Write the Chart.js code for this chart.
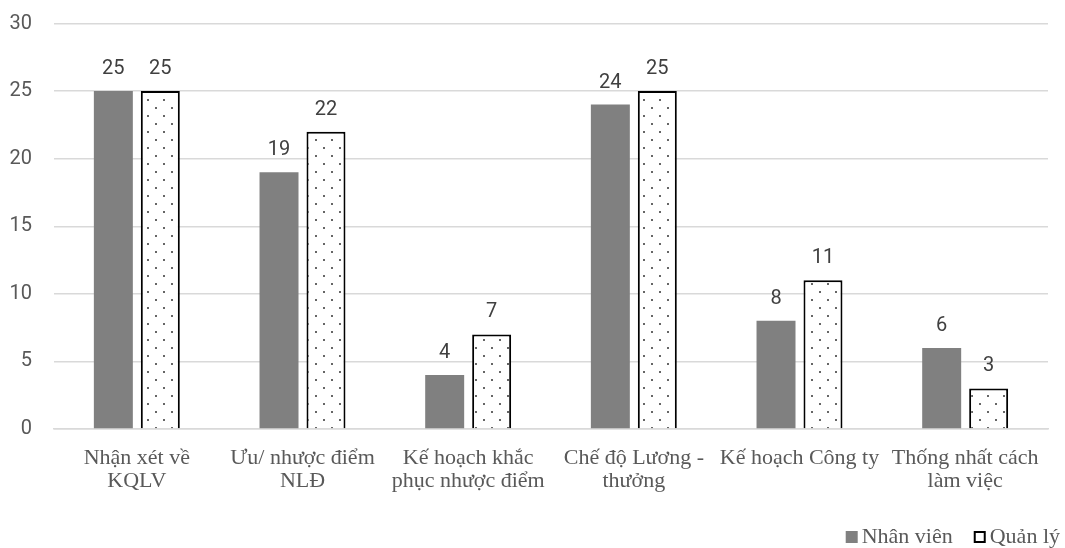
<!DOCTYPE html>
<html><head><meta charset="utf-8">
<script src="https://cdn.jsdelivr.net/npm/chart.js@4"></script>
<style>html,body{margin:0;padding:0;background:#fff}#wrap{width:1065px;height:548px}</style>
</head><body><div id="wrap"><canvas id="c" width="1065" height="548"></canvas></div>
<script>
const categories = [["Nhận xét về","KQLV"],["Ưu/ nhược điểm","NLĐ"],["Kế hoạch khắc","phục nhược điểm"],["Chế độ Lương -","thưởng"],"Kế hoạch Công ty",["Thống nhất cách","làm việc"]];
const nhanVien = [25,19,4,24,8,6];
const quanLy = [25,22,7,25,11,3];
const seriesNames = ["Nhân viên","Quản lý"];
const yTicks = {min:0,max:30,step:5};

function dotPattern(){
  const p=document.createElement('canvas');p.width=16;p.height=16;
  const g=p.getContext('2d');g.fillStyle='#fff';g.fillRect(0,0,16,16);
  g.fillStyle='#333';
  g.beginPath();g.arc(4,4,1,0,Math.PI*2);g.fill();
  g.beginPath();g.arc(12,12,1,0,Math.PI*2);g.fill();
  return document.getElementById('c').getContext('2d').createPattern(p,'repeat');
}
const labelPlugin={id:'vals',afterDatasetsDraw(chart){
  const ctx=chart.ctx;ctx.save();
  ctx.font='20px Roboto';ctx.fillStyle='#404040';ctx.textAlign='center';ctx.textBaseline='alphabetic';
  chart.data.datasets.forEach((ds,i)=>{chart.getDatasetMeta(i).data.forEach((b,j)=>{ctx.fillText(String(ds.data[j]),b.x,b.y-17);});});
  ctx.restore();}};
const legendPlugin={id:'leg',afterDraw(chart){
  const ctx=chart.ctx;ctx.save();
  ctx.font='22px "Liberation Serif"';ctx.textBaseline='alphabetic';ctx.fillStyle='#595959';
  const base=543, box=12, gapText=4, gapItem=21;
  const w0=ctx.measureText(seriesNames[0]).width, w1=ctx.measureText(seriesNames[1]).width;
  const total=box+gapText+w0+gapItem+box+gapText+w1;
  let x=1060-total;
  ctx.fillStyle='#808080';ctx.fillRect(x,base-12,box,box);
  x+=box+gapText;ctx.fillStyle='#595959';ctx.fillText(seriesNames[0],x,base);
  x+=w0+gapItem;
  ctx.fillStyle='#fff';ctx.fillRect(x,base-12,box,box);
  ctx.strokeStyle='#000';ctx.lineWidth=2;ctx.strokeRect(x+1,base-11,box-2,box-2);
  x+=box+gapText;ctx.fillStyle='#595959';ctx.fillText(seriesNames[1],x,base);
  ctx.restore();}};
new Chart(document.getElementById('c'),{
  type:'bar',
  data:{labels:categories,datasets:[
    {label:seriesNames[0],data:nhanVien,backgroundColor:'#808080',borderWidth:0,categoryPercentage:0.567,barPercentage:0.83},
    {label:seriesNames[1],data:quanLy,backgroundColor:dotPattern(),borderColor:'#000',borderWidth:2,categoryPercentage:0.567,barPercentage:0.83}
  ]},
  options:{responsive:false,animation:false,
    layout:{padding:{left:10,right:17,top:23.5,bottom:0}},
    plugins:{tooltip:{enabled:false},legend:{display:false}},
    scales:{
      x:{grid:{display:false},border:{color:'#d9d9d9',width:1.5},afterFit(s){s.height=119;},ticks:{color:'#595959',padding:10,maxRotation:0,autoSkip:false,font:{family:'Liberation Serif',size:22,lineHeight:1.05}}},
      y:{min:yTicks.min,max:yTicks.max,afterFit(s){s.width=44;s.paddingTop=0;s.paddingBottom=0;},ticks:{stepSize:yTicks.step,color:'#595959',padding:22,font:{family:'Roboto',size:20}},grid:{color:'#d9d9d9',lineWidth:1.5,drawTicks:false},border:{display:false}}
    }},
  plugins:[labelPlugin,legendPlugin]
});
</script></body></html>
